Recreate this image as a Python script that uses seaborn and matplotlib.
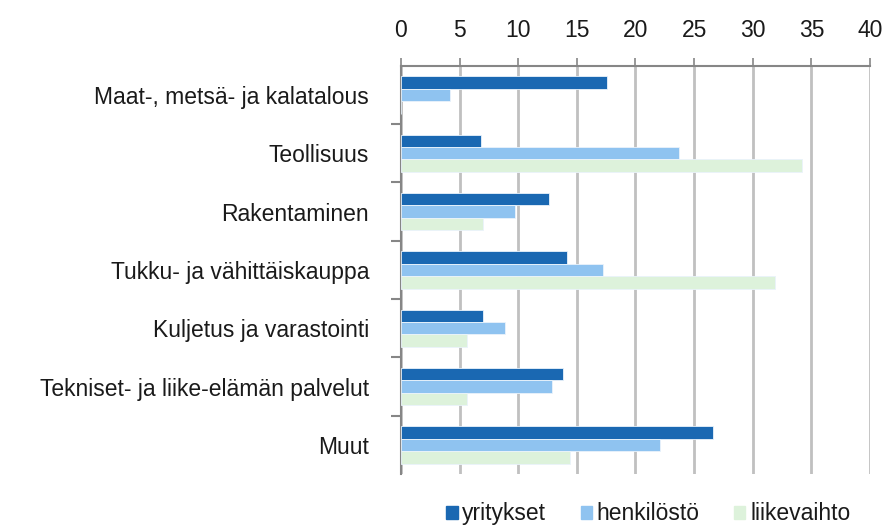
import pandas as pd
import matplotlib
matplotlib.use("Agg")
import matplotlib.pyplot as plt
import seaborn as sns

sns.set_style("white")
plt.rcParams["font.family"] = ["Liberation Sans", "DejaVu Sans"]

categories = ["Maat-, metsä- ja kalatalous", "Teollisuus", "Rakentaminen",
              "Tukku- ja vähittäiskauppa", "Kuljetus ja varastointi",
              "Tekniset- ja liike-elämän palvelut", "Muut"]
series = ["yritykset", "henkilöstö", "liikevaihto"]
yritykset = [17.6, 6.8, 12.6, 14.2, 7.0, 13.8, 26.6]
henkilosto = [4.2, 23.7, 9.7, 17.2, 8.9, 12.9, 22.1]
liikevaihto = [0.0, 34.2, 7.0, 31.9, 5.6, 5.6, 14.4]
colors = ["#1A68B2", "#8FC3F0", "#DDF2DB"]

df = pd.DataFrame({
    "toimiala": categories * 3,
    "sarja": [series[0]] * 7 + [series[1]] * 7 + [series[2]] * 7,
    "arvo": yritykset + henkilosto + liikevaihto,
})

fig = plt.figure(figsize=(8.82, 5.31), dpi=100)
ax = fig.add_axes([0.4546, 0.1073, 0.5318, 0.769])

sns.barplot(data=df, y="toimiala", x="arvo", hue="sarja", palette=colors,
            saturation=1, orient="h", width=0.64, edgecolor="#EAF3FB",
            linewidth=0.6, ax=ax, legend=False, zorder=3)

ax.set_xlim(0, 40)
ax.set_xticks(range(0, 41, 5))
ax.set_ylim(6.5, -0.5)
ax.xaxis.tick_top()
ax.set_xlabel("")
ax.set_ylabel("")
ax.grid(axis="x", color="#C0C0C0", linewidth=2, zorder=0)
ax.set_axisbelow(True)

for s in ["right", "bottom"]:
    ax.spines[s].set_visible(False)
for s in ["top", "left"]:
    ax.spines[s].set_color("#868686")
    ax.spines[s].set_linewidth(1.5)

ax.tick_params(axis="x", which="major", top=True, direction="out", length=6,
               width=1.2, color="#868686", labelsize=16.5, labelcolor="#1a1a1a", pad=11)
ax.tick_params(axis="y", which="major", length=0, labelsize=16.5,
               labelcolor="#1a1a1a", pad=23)
ax.set_yticks([i + 0.5 for i in range(6)], minor=True)
ax.tick_params(axis="y", which="minor", left=True, length=7, width=1.5,
               color="#868686")

handles = [plt.Rectangle((0, 0), 1, 1, color=c) for c in colors]
fig.legend(handles, series, loc="lower center", bbox_to_anchor=(0.735, -0.028),
           ncol=3, frameon=False, fontsize=16.5, handlelength=0.5,
           handleheight=0.5, handletextpad=0.2, columnspacing=1.5,
           labelcolor="#1a1a1a")

fig.savefig("out.png", dpi=100)
